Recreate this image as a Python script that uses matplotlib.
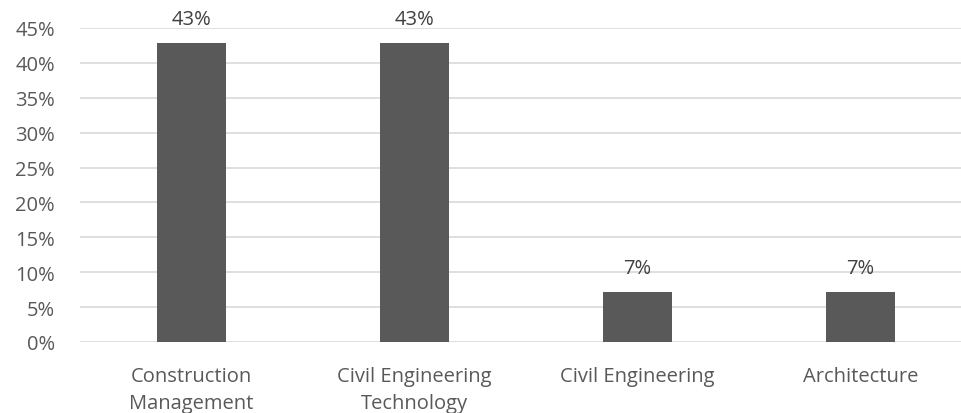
import matplotlib
matplotlib.use('Agg')
import matplotlib.pyplot as plt
from matplotlib.ticker import PercentFormatter

categories = ['Construction\nManagement', 'Civil Engineering\nTechnology', 'Civil Engineering', 'Architecture']
shares = [0.4286, 0.4286, 0.0714, 0.0714]
yticks = [0, 0.05, 0.10, 0.15, 0.20, 0.25, 0.30, 0.35, 0.40, 0.45]

plt.rcParams['font.family'] = ['Open Sans', 'DejaVu Sans']
txt = '#595959'
fs = 14.5

fig = plt.figure(figsize=(9.61, 4.14), dpi=100)
ax = fig.add_axes([80/961, 1-343/414, 1-80/961, (343-29)/414])

x = range(len(categories))
bars = ax.bar(x, shares, width=0.31, color='#595959', zorder=3)
for b, v in zip(bars, shares):
    ax.annotate(f'{v:.0%}', (b.get_x() + b.get_width()/2, v), xytext=(0, 10),
                textcoords='offset points', ha='center', va='bottom',
                fontsize=fs, color='#404040')

ax.set_ylim(0, 0.45)
ax.set_xlim(-0.5, 3.45)
ax.set_yticks(yticks)
ax.yaxis.set_major_formatter(PercentFormatter(1.0, decimals=0))
ax.set_xticks(list(x))
ax.set_xticklabels(categories, fontsize=fs, color=txt, linespacing=1.5)
ax.tick_params(axis='y', labelsize=fs, labelcolor=txt, length=0, pad=18)
ax.tick_params(axis='x', length=0, pad=17)
ax.grid(axis='y', color='#d9d9d9', linewidth=1.2, zorder=0)
for s in ax.spines.values():
    s.set_visible(False)

fig.savefig('out.png', dpi=100)
